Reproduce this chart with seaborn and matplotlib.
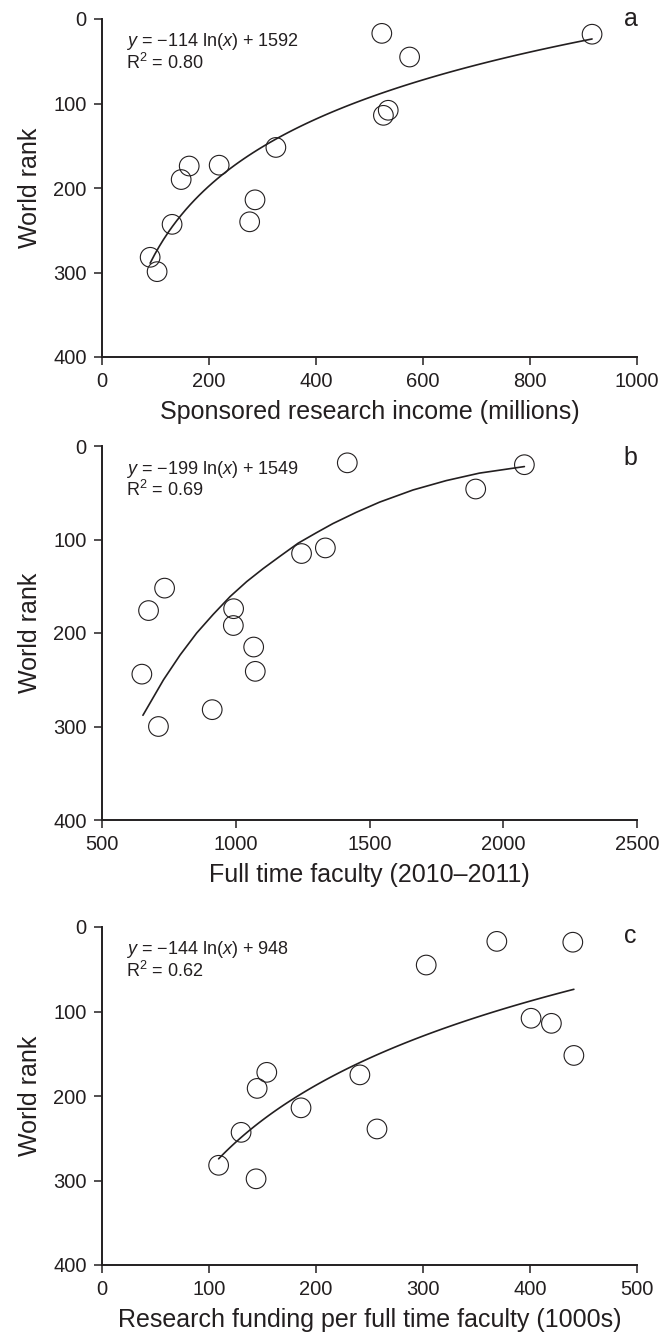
import matplotlib
matplotlib.use("Agg")
import matplotlib.pyplot as plt
import seaborn as sns
import pandas as pd

# ---- data ----
income_millions = [523, 916, 575, 535, 526, 325, 163, 219, 148, 286, 276, 131, 90, 103]
rank_a = [17, 18, 45, 108, 114, 152, 174, 173, 190, 214, 240, 243, 282, 299]

faculty_count = [1417, 2079, 1897, 1335, 1246, 734, 674, 992, 991, 1067, 1073, 649, 912, 711]
rank_b = [18, 20, 46, 109, 115, 152, 176, 174, 192, 215, 241, 244, 282, 300]

# trend curve of panel b as drawn in the reference
trend_b_x = [653, 730, 792, 854, 916, 979, 1041, 1103, 1165, 1233, 1300, 1363, 1450, 1538, 1663, 1787, 1911, 2079]
trend_b_y = [288, 250, 223.5, 200, 180, 161, 145, 131, 118, 104, 93, 83, 71, 60, 47, 37, 29, 22]

funding_per_faculty = [369, 440, 303, 401, 420, 441, 154, 241, 145, 186, 257, 130, 109, 144]
rank_c = [17, 18, 45, 108, 114, 152, 172, 175, 191, 214, 239, 243, 282, 298]

panel_letters = ["a", "b", "c"]
x_labels = ["Sponsored research income (millions)",
            "Full time faculty (2010\u20132011)",
            "Research funding per full time faculty (1000s)"]
fit_texts = ["$\\mathit{y}$ = \u2212114 ln($\\mathit{x}$) + 1592",
             "$\\mathit{y}$ = \u2212199 ln($\\mathit{x}$) + 1549",
             "$\\mathit{y}$ = \u2212144 ln($\\mathit{x}$) + 948"]
r2_texts = ["R$^{2}$ = 0.80", "R$^{2}$ = 0.69", "R$^{2}$ = 0.62"]
x_ticks = [[0, 200, 400, 600, 800, 1000],
           [500, 1000, 1500, 2000, 2500],
           [0, 100, 200, 300, 400, 500]]
y_ticks = [0, 100, 200, 300, 400]

sns.set_theme(style="ticks")
plt.rcParams["font.family"] = ["Liberation Sans", "DejaVu Sans"]
plt.rcParams["mathtext.fontset"] = "custom"
plt.rcParams["mathtext.rm"] = "Liberation Sans"
plt.rcParams["mathtext.it"] = "Liberation Sans:italic"
plt.rcParams["mathtext.bf"] = "Liberation Sans:bold"

INK = "#231f20"

W, H = 665, 1336
fig = plt.figure(figsize=(W / 100, H / 100), dpi=100)

# axes rectangles in pixels: (left, top, right, bottom)
rects = [(102, 19, 637, 357), (102, 446, 637, 820), (102, 927, 637, 1265)]

datasets = [
    pd.DataFrame({"x": income_millions, "rank": rank_a}),
    pd.DataFrame({"x": faculty_count, "rank": rank_b}),
    pd.DataFrame({"x": funding_per_faculty, "rank": rank_c}),
]

for i, (l, t, r, b) in enumerate(rects):
    ax = fig.add_axes([l / W, 1 - b / H, (r - l) / W, (b - t) / H])
    df = datasets[i]
    if i == 1:
        sns.lineplot(x=trend_b_x, y=trend_b_y, ax=ax, color=INK, lw=1.2)
    else:
        sns.regplot(data=df, x="x", y="rank", logx=True, ci=None, scatter=False,
                    truncate=True, ax=ax, line_kws=dict(color=INK, lw=1.2))
    sns.scatterplot(data=df, x="x", y="rank", ax=ax, s=200, marker="o",
                    facecolor="none", edgecolor=INK, linewidth=0.8, zorder=3)
    ax.set_xlim(x_ticks[i][0], x_ticks[i][-1])
    ax.set_ylim(400, 0)
    ax.set_xticks(x_ticks[i])
    ax.set_yticks(y_ticks)
    for side in ["top", "right"]:
        ax.spines[side].set_visible(False)
    for side in ["left", "bottom"]:
        ax.spines[side].set_linewidth(1.4)
        ax.spines[side].set_color(INK)
    ax.tick_params(axis="both", direction="out", length=6, width=1.1,
                   color=INK, labelcolor=INK, labelsize=14.5, pad=5)
    ax.set_xlabel(x_labels[i], fontsize=18, color=INK, labelpad=6)
    ax.set_ylabel("World rank", fontsize=18, color=INK, labelpad=8)
    ax.text(0.045, 1 - 23 / (b - t), fit_texts[i], transform=ax.transAxes,
            fontsize=13, color=INK, va="center", ha="left")
    ax.text(0.045, 1 - 44 / (b - t), r2_texts[i], transform=ax.transAxes,
            fontsize=13, color=INK, va="center", ha="left")
    label_dy = [0, 12, 9][i]
    ax.text(0.988, 1 - label_dy / (b - t), panel_letters[i], transform=ax.transAxes,
            fontsize=18, color=INK, va="center", ha="center", clip_on=False)

fig.savefig("out.png", dpi=100)
